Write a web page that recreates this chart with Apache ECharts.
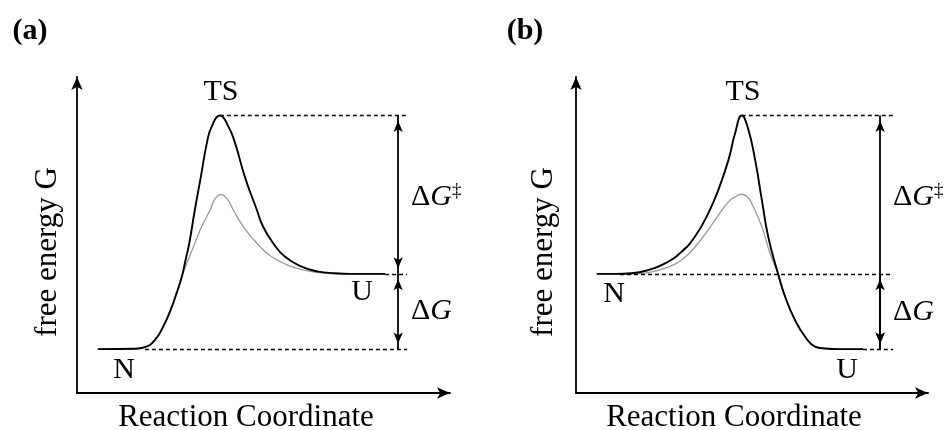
<!DOCTYPE html>
<html><head><meta charset="utf-8">
<script src="https://cdn.jsdelivr.net/npm/echarts@6/dist/echarts.min.js"></script>
<style>html,body{margin:0;padding:0;background:#fff}#c{width:952px;height:430px}</style>
</head><body><div id="c"></div>
<script>
// ---------- data (x: reaction coordinate 0-100, y: free energy 0-100) ----------
// Panel (a): N -> TS -> U, U above N
const aBlack = [[5.6,13.9],[15.5,14.0],[18.2,14.5],[20.9,16.8],[23.1,21.0],[25.1,26.3],[26.7,31.6],[28.1,36.8],[29.1,42.1],[30.1,47.4],[31.6,58.0],[33.2,68.4],[34.8,79.0],[36.1,84.3],[38.3,87.8],[40.6,84.3],[42.4,79.0],[45.0,68.4],[48.2,58.0],[49.9,52.6],[52.6,47.4],[55.8,43.1],[60.2,40.0],[64.7,38.4],[69.2,37.9],[73.2,37.7],[82.6,37.7]];
const aGray  = [[5.6,13.9],[15.5,14.0],[18.2,14.5],[20.9,16.8],[23.1,21.0],[25.1,26.3],[26.7,31.6],[28.1,36.8],[29.8,42.1],[31.6,47.4],[33.4,52.6],[35.7,57.9],[36.9,61.2],[38.6,62.8],[40.4,61.2],[41.9,57.9],[44.6,52.6],[48.2,47.4],[52.2,43.1],[57.6,40.0],[62.9,38.4],[69.2,37.7],[82.6,37.7]];
const aLevels = [13.9, 37.7, 87.8];        // N, U, TS
const aGuideFrom = [18.2, 82.6, 38.3];     // dashed guide start for N, U, TS
const aGuideTo = 88.5;
const aArrowX = 86.1;
// Panel (b): N -> TS -> U, U below N
const bBlack = [[5.9,37.7],[11.1,37.7],[15.8,37.9],[20.5,38.9],[25.3,41.0],[30.0,44.7],[33.8,49.5],[37.6,56.9],[40.4,64.2],[43.3,73.7],[45.2,82.2],[47.1,87.8],[48.8,84.0],[50.9,73.7],[52.8,61.1],[54.6,49.5],[57.5,37.3],[59.4,30.5],[62.2,23.1],[65.1,17.8],[67.9,14.7],[70.7,14.1],[75.0,13.9],[81.5,13.9]];
const bGray  = [[5.9,37.7],[11.1,37.7],[15.8,37.7],[20.5,38.1],[25.3,39.5],[30.0,42.1],[34.7,47.4],[39.5,54.7],[43.3,60.5],[45.4,62.2],[47.1,62.9],[48.7,62.0],[49.9,60.0],[52.8,52.6],[55.1,44.2],[57.5,37.6],[59.4,30.5],[62.2,23.1],[65.1,17.8],[67.9,14.7],[70.7,14.1],[75.0,13.9],[81.5,13.9]];
const bLevels = [37.7, 13.9, 87.8];        // N, U, TS
const bGuideFrom = [12.5, 81.5, 47.1];
const bGuideTo = 90.1;
const bArrowX = 86.4;

// ---------- chart ----------
const SERIF = '"Liberation Serif", "DejaVu Serif", serif';
const dash = {type:[4,3], width:1.3, color:'#000'};
const arrowLine = {type:'solid', width:1.8, color:'#000'};

function guides(levels, from, to, ax) {
  const d = [];
  for (let i = 0; i < 3; i++) {
    d.push([{coord:[from[i], levels[i]], lineStyle:dash, symbol:'none'},{coord:[to, levels[i]], symbol:'none'}]);
  }
  const arr = (y1, y2) => [
    {coord:[ax, y1], lineStyle:arrowLine, symbol:'arrow', symbolSize:[7,11], symbolOffset:[0,5.5]},
    {coord:[ax, y2], symbol:'arrow', symbolSize:[7,11], symbolOffset:[0,5.5]}
  ];
  d.push(arr(levels[2], levels[1]));
  d.push(arr(levels[1], levels[0]));
  return d;
}

function axisPair(idx) {
  const line = {show:true, onZero:true, symbol:['none','arrow'], symbolSize:[8.5,13], lineStyle:{color:'#000', width:1.8}};
  return {
    x: {type:'value', gridIndex:idx, min:0, max:100, axisLine:line, axisTick:{show:false}, axisLabel:{show:false}, splitLine:{show:false}},
    y: {type:'value', gridIndex:idx, min:0, max:100, axisLine:line, axisTick:{show:false}, axisLabel:{show:false}, splitLine:{show:false}}
  };
}
const A = axisPair(0), B = axisPair(1);

function curves(black, gray, idx, levels, from, to, ax) {
  return [
    {type:'line', xAxisIndex:idx, yAxisIndex:idx, data:gray, smooth:0.5, showSymbol:false, symbol:'none', silent:true,
     lineStyle:{color:'#9a9a9a', width:1.3}, z:2},
    {type:'line', xAxisIndex:idx, yAxisIndex:idx, data:black, smooth:0.5, showSymbol:false, symbol:'none', silent:true,
     lineStyle:{color:'#000', width:1.9}, z:3,
     markLine:{silent:true, animation:false, symbol:['none','none'], label:{show:false}, emphasis:{disabled:true},
       data: guides(levels, from, to, ax)}}
  ];
}

function txt(x, y, text, extra) {
  return Object.assign({type:'text', x:x, y:y, silent:true,
    style:Object.assign({text:text, font:'30px ' + SERIF, fill:'#000', textAlign:'center', textVerticalAlign:'middle', align:'center', verticalAlign:'middle'}, extra || {})});
}
function dg(x, y, dagger) {
  const t = dagger ? '{d|Δ}{g|G}{s|‡}' : '{d|Δ}{g|G}';
  return {type:'text', x:x, y:y, silent:true, style:{text:t, textAlign:'left', align:'left', textVerticalAlign:'middle', verticalAlign:'middle', fill:'#000',
    rich:{d:{fontFamily:SERIF, fontSize:30, lineHeight:30}, g:{fontFamily:SERIF, fontSize:30, fontStyle:'italic', lineHeight:30}, s:{fontFamily:SERIF, fontSize:19, verticalAlign:'top', lineHeight:30}}}};
}

const option = {
  animation:false,
  backgroundColor:'#fff',
  grid:[{left:77, top:77, width:373, height:316}, {left:576, top:77, width:352, height:316}],
  xAxis:[A.x, B.x],
  yAxis:[A.y, B.y],
  series:[].concat(
    curves(aBlack, aGray, 0, aLevels, aGuideFrom, aGuideTo, aArrowX),
    curves(bBlack, bGray, 1, bLevels, bGuideFrom, bGuideTo, bArrowX)
  ),
  graphic:[
    txt(30, 31, '(a)', {font:'bold 30px ' + SERIF}),
    txt(525, 31, '(b)', {font:'bold 30px ' + SERIF}),
    txt(221, 92, 'TS'), txt(743, 92, 'TS'),
    txt(124, 370, 'N'), txt(362, 292, 'U'),
    txt(614, 294, 'N'), txt(847, 370, 'U'),
    dg(411, 197, true), dg(411, 311, false),
    dg(893, 197, true), dg(893, 312, false),
    Object.assign(txt(48, 252, 'free energy G', {font:'31px ' + SERIF}), {rotation:Math.PI/2}),
    Object.assign(txt(544, 252, 'free energy G', {font:'31px ' + SERIF}), {rotation:Math.PI/2}),
    txt(246, 418, 'Reaction Coordinate', {font:'31px ' + SERIF}),
    txt(734, 418, 'Reaction Coordinate', {font:'31px ' + SERIF})
  ]
};
const chart = echarts.init(document.getElementById('c'), null, {renderer:'canvas'});
chart.setOption(option);
</script></body></html>
